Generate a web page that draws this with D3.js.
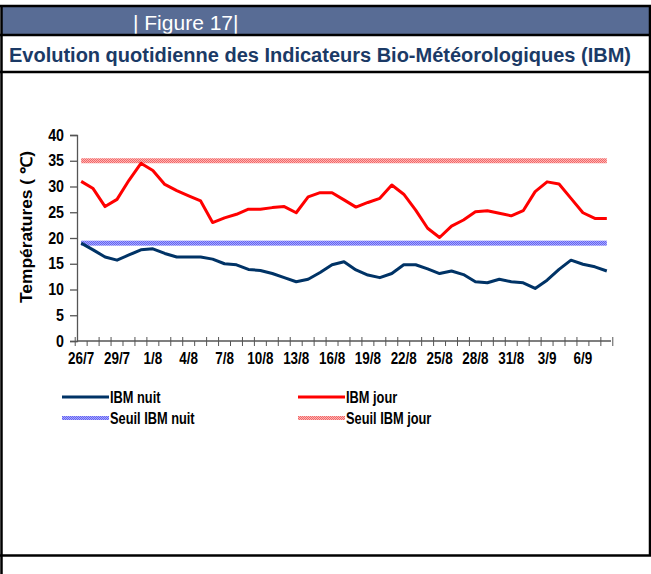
<!DOCTYPE html>
<html>
<head>
  <meta charset="utf-8">
  <title>Figure 17 - IBM</title>
  <style>
    body { margin: 0; background: #fff; }
    svg text { font-family: "Liberation Sans", Arial, sans-serif; }
    .tick_label { font-size: 16px; font-weight: bold; fill: #000; }
    .legend_label { font-size: 16px; font-weight: bold; fill: #000; }
  </style>
</head>
<body>
  <svg id="canvas"></svg>
  <script src="https://cdnjs.cloudflare.com/ajax/libs/d3/7.8.5/d3.min.js"></script>
  <script>
    // categories (one per day)
    const dates = ["26/7", "27/7", "28/7", "29/7", "30/7", "31/7",
      "1/8", "2/8", "3/8", "4/8", "5/8", "6/8", "7/8", "8/8", "9/8", "10/8",
      "11/8", "12/8", "13/8", "14/8", "15/8", "16/8", "17/8", "18/8", "19/8", "20/8",
      "21/8", "22/8", "23/8", "24/8", "25/8", "26/8", "27/8", "28/8", "29/8", "30/8", "31/8",
      "1/9", "2/9", "3/9", "4/9", "5/9", "6/9", "7/9", "8/9"];

    const ibmNuit = [19.0, 17.7, 16.3, 15.7, 16.7, 17.7, 17.9, 17.0, 16.3, 16.3,
      16.3, 15.9, 15.0, 14.8, 13.9, 13.7, 13.1, 12.3, 11.5, 12.0,
      13.3, 14.8, 15.4, 13.8, 12.8, 12.3, 13.1, 14.8, 14.8, 14.0,
      13.1, 13.6, 12.9, 11.5, 11.3, 12.0, 11.5, 11.3, 10.2, 11.8,
      13.9, 15.7, 14.9, 14.4, 13.6];

    const ibmJour = [31.0, 29.6, 26.1, 27.5, 31.2, 34.5, 33.1, 30.4, 29.2, 28.2,
      27.2, 23.0, 23.9, 24.6, 25.6, 25.6, 25.9, 26.1, 24.9, 28.0,
      28.8, 28.8, 27.4, 26.0, 26.9, 27.7, 30.3, 28.5, 25.4, 21.9,
      20.1, 22.3, 23.5, 25.1, 25.3, 24.8, 24.3, 25.3, 29.0, 30.9,
      30.5, 27.7, 24.9, 23.8, 23.8];

    const seuilNuit = 19;
    const seuilJour = 35;

    const xLabels = ["26/7", "29/7", "1/8", "4/8", "7/8", "10/8", "13/8", "16/8",
      "19/8", "22/8", "25/8", "28/8", "31/8", "3/9", "6/9"];
    const yTicks = [0, 5, 10, 15, 20, 25, 30, 35, 40];

    const W = 651, H = 574;
    const svg = d3.select("#canvas").attr("width", W).attr("height", H);

    // squeeze text horizontally (the original font is narrower)
    const condense = (sel, k) => sel.each(function () {
      const w = this.getComputedTextLength();
      d3.select(this).attr("textLength", w * k).attr("lengthAdjust", "spacingAndGlyphs");
    });

    // patterns for the threshold bands
    const defs = svg.append("defs");
    const mkPattern = (id, bg, dot) => {
      const p = defs.append("pattern").attr("id", id)
        .attr("patternUnits", "userSpaceOnUse").attr("width", 2).attr("height", 2);
      p.append("rect").attr("width", 2).attr("height", 2).attr("fill", bg);
      p.append("rect").attr("width", 1).attr("height", 1).attr("fill", dot);
      p.append("rect").attr("x", 1).attr("y", 1).attr("width", 1).attr("height", 1).attr("fill", dot);
    };
    mkPattern("pat_red", "#ffb4b4", "#f06868");
    mkPattern("pat_blue", "#a8a8ff", "#6464f0");

    // frame
    svg.append("rect").attr("x", 1.5).attr("y", 7).attr("width", W - 3).attr("height", 28)
      .attr("fill", "#586c95");
    svg.append("text").attr("x", 133).attr("y", 30)
      .attr("fill", "#fff").style("font-size", "21px")
      .text("| Figure 17|");
    svg.append("text").attr("x", 9).attr("y", 62)
      .attr("fill", "#1b3a66").style("font-size", "20px").style("font-weight", "bold")
      .attr("textLength", 622).attr("lengthAdjust", "spacingAndGlyphs")
      .text("Evolution quotidienne des Indicateurs Bio-Météorologiques (IBM)");

    const frame = svg.append("g").attr("stroke", "#000").attr("stroke-width", 2.5);
    [6, 35, 72, 555.5].forEach(y => {
      frame.append("line").attr("x1", 0).attr("x2", W).attr("y1", y).attr("y2", y);
    });
    frame.append("line").attr("x1", 1.5).attr("x2", 1.5).attr("y1", 6).attr("y2", H);
    frame.append("line").attr("x1", W - 1).attr("x2", W - 1).attr("y1", 6).attr("y2", 556);

    // scales
    const x = d3.scalePoint().domain(dates).range([77, 611]).padding(0.35);
    const y = d3.scaleLinear().domain([0, 40]).range([341, 135]);
    const step = x.step();

    // threshold bands
    const seuils = [
      { v: seuilJour, fill: "url(#pat_red)" },
      { v: seuilNuit, fill: "url(#pat_blue)" }
    ];
    svg.append("g").selectAll("rect").data(seuils).enter().append("rect")
      .attr("x", x(dates[0]))
      .attr("width", x(dates[dates.length - 1]) - x(dates[0]))
      .attr("y", d => y(d.v) - 2.5)
      .attr("height", 5)
      .attr("fill", d => d.fill);

    // data lines
    const line = d3.line().x((d, i) => x(dates[i])).y(d => y(d));
    svg.append("path").datum(ibmNuit).attr("d", line)
      .attr("fill", "none").attr("stroke", "#003366").attr("stroke-width", 3)
      .attr("stroke-linejoin", "round");
    svg.append("path").datum(ibmJour).attr("d", line)
      .attr("fill", "none").attr("stroke", "#ff0000").attr("stroke-width", 3)
      .attr("stroke-linejoin", "round");

    // y axis
    const yAxis = svg.append("g").attr("transform", "translate(77,0)")
      .call(d3.axisLeft(y).tickValues(yTicks).tickSize(7).tickPadding(6));
    yAxis.select(".domain").attr("stroke", "#555").attr("stroke-width", 1.3);
    yAxis.selectAll(".tick line").attr("stroke", "#555").attr("stroke-width", 1.3);
    yAxis.selectAll(".tick text").attr("class", "tick_label")
      .style("font-family", "'Liberation Sans', Arial, sans-serif")
      .call(condense, 0.89);

    // x axis
    const xg = svg.append("g").attr("transform", "translate(0,341)");
    xg.append("line").attr("x1", 77).attr("x2", 611).attr("stroke", "#555").attr("stroke-width", 1.3);
    const bounds = dates.map((d, i) => x(d) - step / 2).concat([x(dates[dates.length - 1]) + step / 2]);
    xg.selectAll(".xt").data(bounds).enter().append("line")
      .attr("x1", d => d).attr("x2", d => d)
      .attr("y1", (d, i) => i % 3 === 1 ? 0 : -4)
      .attr("y2", 5)
      .attr("stroke", "#555").attr("stroke-width", 1);
    xg.selectAll(".xl").data(xLabels).enter().append("text")
      .attr("class", "tick_label")
      .attr("x", d => x(d)).attr("y", 23)
      .attr("text-anchor", "middle")
      .text(d => d)
      .call(condense, 0.84);

    // y title
    svg.append("text")
      .attr("transform", "translate(32,227)rotate(-90)")
      .attr("text-anchor", "middle")
      .style("font-size", "16px").style("font-weight", "bold")
      .attr("textLength", 152).attr("lengthAdjust", "spacingAndGlyphs")
      .text("Températures ( ℃)");

    // legend
    const legend = [
      { label: "IBM nuit", x: 62, y: 397, stroke: "#003366", h: 3 },
      { label: "IBM jour", x: 298, y: 397, stroke: "#ff0000", h: 3 },
      { label: "Seuil IBM nuit", x: 62, y: 418, stroke: "url(#pat_blue)", h: 4 },
      { label: "Seuil IBM jour", x: 298, y: 418, stroke: "url(#pat_red)", h: 4 }
    ];
    const lg = svg.append("g").selectAll("g").data(legend).enter().append("g");
    lg.append("rect")
      .attr("x", d => d.x).attr("y", d => d.y - d.h / 2)
      .attr("width", 47).attr("height", d => d.h)
      .attr("fill", d => d.stroke);
    lg.append("text").attr("class", "legend_label")
      .attr("x", d => d.x + 48).attr("y", d => d.y + 5.5)
      .text(d => d.label)
      .call(condense, 0.8);
  </script>
</body>
</html>
